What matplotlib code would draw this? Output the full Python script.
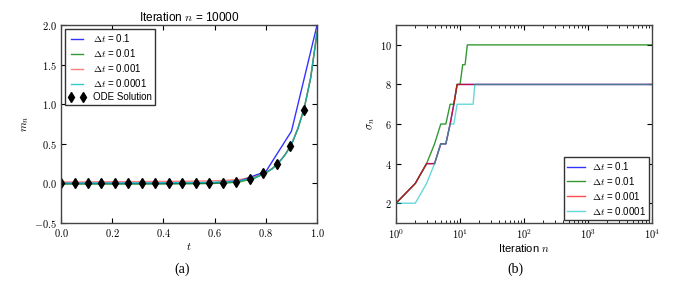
import matplotlib
matplotlib.use('Agg')
import matplotlib.pyplot as plt
import numpy as np
from matplotlib.ticker import FuncFormatter, MultipleLocator, LogLocator

plt.rcParams['mathtext.fontset'] = 'cm'
plt.rcParams['font.family'] = ['Liberation Sans', 'DejaVu Sans']

# ---- panel (a): m_n versus t ----
t_coarse = [0.0, 0.1, 0.2, 0.3, 0.4, 0.5, 0.6, 0.7, 0.8, 0.9, 1.0]
m_dt01 = [0.0, 0.0, 0.0, 0.0, 0.0, 0.002, 0.008, 0.035, 0.15, 0.66, 2.0]

t_fine = [0.0, 0.05, 0.1, 0.15, 0.2, 0.25, 0.3, 0.35, 0.4, 0.45, 0.5, 0.55, 0.6,
          0.65, 0.7, 0.75, 0.8, 0.825, 0.85, 0.875, 0.9, 0.925, 0.95, 0.975, 1.0]
m_dt001 = [-0.008, -0.008, -0.008, -0.008, -0.008, -0.008, -0.008, -0.007, -0.007, -0.006, -0.005, -0.003, 0.0,
           0.006, 0.022, 0.058, 0.13, 0.185, 0.26, 0.36, 0.49, 0.69, 0.95, 1.33, 1.9]
m_dt0001 = [0.018, 0.018, 0.019, 0.02, 0.021, 0.022, 0.023, 0.024, 0.025, 0.026, 0.028, 0.03, 0.033,
            0.04, 0.05, 0.075, 0.14, 0.19, 0.265, 0.365, 0.495, 0.695, 0.955, 1.34, 1.92]
m_dt00001 = [0.004, 0.004, 0.004, 0.005, 0.005, 0.006, 0.006, 0.007, 0.008, 0.009, 0.01, 0.012, 0.015,
             0.022, 0.036, 0.066, 0.135, 0.188, 0.263, 0.362, 0.492, 0.692, 0.952, 1.335, 1.91]

t_ode = [0.0, 0.053, 0.105, 0.158, 0.211, 0.263, 0.316, 0.368, 0.421, 0.474,
         0.526, 0.579, 0.632, 0.684, 0.737, 0.789, 0.842, 0.895, 0.947]
m_ode = [0.0, 0.0, 0.0, 0.0, 0.0, 0.0, 0.0, 0.0, 0.0, 0.0,
         0.001, 0.003, 0.01, 0.022, 0.055, 0.126, 0.245, 0.475, 0.93]

# ---- panel (b): sigma_n versus iteration ----
n_iter = [1, 2, 3, 4, 5, 6, 7, 8, 9, 10, 11, 12, 13, 14, 15, 16, 17, 18, 10000]
s_dt01 = [2, 3, 4, 4, 5, 5, 6, 7, 8, 8, 8, 8, 8, 8, 8, 8, 8, 8, 8]
s_dt001 = [2, 3, 4, 5, 6, 6, 7, 7, 8, 8, 9, 9, 10, 10, 10, 10, 10, 10, 10]
s_dt0001 = [2, 3, 4, 4, 5, 5, 6, 7, 8, 8, 8, 8, 8, 8, 8, 8, 8, 8, 8]
s_dt00001 = [2, 2, 3, 4, 5, 5, 6, 6, 7, 7, 7, 7, 7, 7, 7, 7, 8, 8, 8]

labels = ['$\\Delta t$ = 0.1', '$\\Delta t$ = 0.01', '$\\Delta t$ = 0.001', '$\\Delta t$ = 0.0001']
colors = ['#0000ff', '#008000', '#ff0000', '#00bfbf']
alphas = [0.8, 0.8, 0.7, 0.6]

fig = plt.figure(figsize=(6.92, 2.86), dpi=100)
ax1 = fig.add_axes([0.0882, 0.2203, 0.370, 0.692])
ax2 = fig.add_axes([0.5723, 0.2203, 0.370, 0.692])

num_fmt = FuncFormatter(lambda v, p: '$%.1f$' % v)
int_fmt = FuncFormatter(lambda v, p: '$%d$' % v)
log_fmt = FuncFormatter(lambda v, p: '$10^{%d}$' % round(np.log10(v)))

ax1.plot(t_coarse, m_dt01, color=colors[0], lw=1.0, alpha=alphas[0], label=labels[0])
ax1.plot(t_fine, m_dt001, color=colors[1], lw=1.0, alpha=alphas[1], label=labels[1])
ax1.plot(t_fine, m_dt0001, color=colors[2], lw=1.0, alpha=0.5, label=labels[2])
ax1.plot(t_fine, m_dt00001, color=colors[3], lw=1.0, alpha=0.8, label=labels[3])
ax1.plot(t_ode, m_ode, 'd', color='black', ms=5.5, ls='none', label='ODE Solution')
ax1.set_xlim(0, 1)
ax1.set_ylim(-0.5, 2.0)
ax1.xaxis.set_major_locator(MultipleLocator(0.2))
ax1.yaxis.set_major_locator(MultipleLocator(0.5))
ax1.xaxis.set_major_formatter(num_fmt)
ax1.yaxis.set_major_formatter(num_fmt)
ax1.set_xlabel('$t$', fontsize=8, labelpad=1)
ax1.set_ylabel('$m_n$', fontsize=8, labelpad=2)
ax1.set_title('Iteration $n$ = 10000', fontsize=8.5, pad=3)
leg1 = ax1.legend(loc='upper left', fontsize=7, numpoints=2, handlelength=1.8,
                  fancybox=False, borderpad=0.35, labelspacing=0.3, handletextpad=0.7,
                  borderaxespad=0.4, framealpha=1)
leg1.get_frame().set_edgecolor('#333333')
leg1.get_frame().set_linewidth(1.0)

for s, c, a, lab in zip([s_dt01, s_dt001, s_dt0001, s_dt00001], colors, alphas, labels):
    ax2.plot(n_iter, s, color=c, lw=1.0, alpha=a, label=lab)
ax2.set_xscale('log')
ax2.set_xlim(1, 1e4)
ax2.set_ylim(1, 11)
ax2.yaxis.set_major_locator(MultipleLocator(2))
ax2.yaxis.set_major_formatter(int_fmt)
ax2.xaxis.set_major_locator(LogLocator(base=10))
ax2.xaxis.set_major_formatter(log_fmt)
ax2.set_xlabel('Iteration $n$', fontsize=8, labelpad=1)
ax2.set_ylabel('$\\sigma_n$', fontsize=8, labelpad=2)
leg2 = ax2.legend(loc='lower right', fontsize=7, handlelength=1.8,
                  fancybox=False, borderpad=0.35, labelspacing=0.3, handletextpad=0.7,
                  borderaxespad=0.3, framealpha=1)
leg2.get_frame().set_edgecolor('#333333')
leg2.get_frame().set_linewidth(1.0)

for ax in (ax1, ax2):
    ax.tick_params(which='both', direction='in', top=True, right=True, labelsize=7.5, pad=3)
    ax.tick_params(which='major', length=3.5)
    ax.tick_params(which='minor', length=2)
    for sp in ax.spines.values():
        sp.set_color('#444444')
        sp.set_linewidth(1.0)

fig.text(0.263, 0.045, '(a)', fontsize=10, family='Liberation Serif', ha='center')
fig.text(0.745, 0.045, '(b)', fontsize=10, family='Liberation Serif', ha='center')

fig.savefig('out.png', dpi=100)
